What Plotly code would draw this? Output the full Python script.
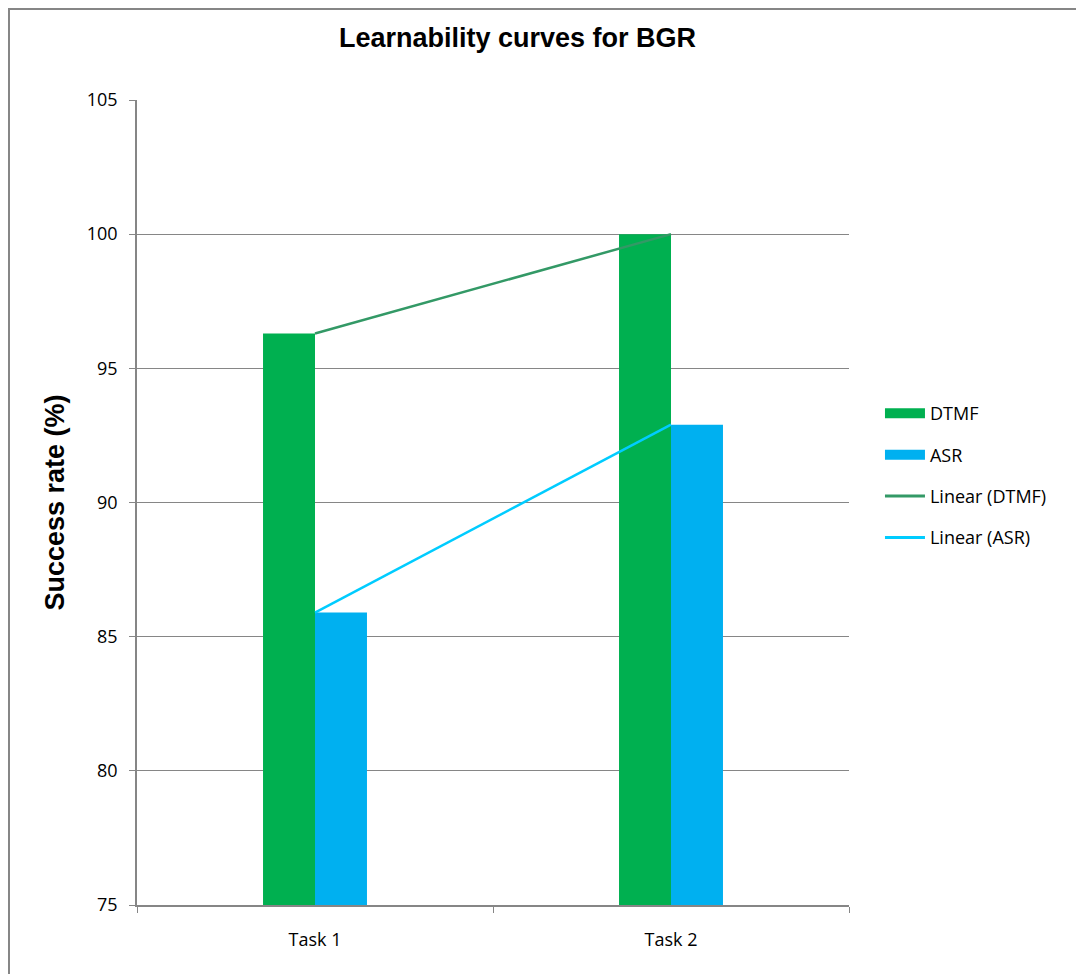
import numpy as np
import plotly.graph_objects as go

categories = ["Task 1", "Task 2"]
dtmf = [96.3, 100.0]
asr = [85.9, 92.9]

def linear_trend(vals):
    idx = np.arange(len(vals))
    m, b = np.polyfit(idx, vals, 1)
    return list(m * idx + b)

grey = "#868686"
c_dtmf = "#00B050"
c_asr = "#00B0F0"
tickfont = dict(family="Open Sans, Noto Sans, sans-serif", size=18, color="#000000")

fig = go.Figure()
fig.add_trace(go.Bar(x=categories, y=dtmf, name="DTMF", legendgroup="a", showlegend=False,
                     marker=dict(color=c_dtmf, line=dict(width=0))))
fig.add_trace(go.Bar(x=categories, y=asr, name="ASR", legendgroup="b", showlegend=False,
                     marker=dict(color=c_asr, line=dict(width=0))))
fig.add_trace(go.Scatter(x=categories, y=linear_trend(dtmf), name="Linear (DTMF)", mode="lines",
                         legendgroup="c", showlegend=False, line=dict(color="#339966", width=2.5)))
fig.add_trace(go.Scatter(x=categories, y=linear_trend(asr), name="Linear (ASR)", mode="lines",
                         legendgroup="d", showlegend=False, line=dict(color="#00CCFF", width=2.5)))

# legend entries (wide rectangular swatches like the original)
fig.add_trace(go.Scatter(x=[None], y=[None], name="DTMF", mode="lines", legendgroup="a",
                         line=dict(color=c_dtmf, width=13), hoverinfo="skip"))
fig.add_trace(go.Scatter(x=[None], y=[None], name="ASR", mode="lines", legendgroup="b",
                         line=dict(color=c_asr, width=13), hoverinfo="skip"))
fig.add_trace(go.Scatter(x=[None], y=[None], name="Linear (DTMF)", mode="lines", legendgroup="c",
                         line=dict(color="#339966", width=3), hoverinfo="skip"))
fig.add_trace(go.Scatter(x=[None], y=[None], name="Linear (ASR)", mode="lines", legendgroup="d",
                         line=dict(color="#00CCFF", width=3), hoverinfo="skip"))

fig.update_layout(
    width=1084, height=974,
    margin=dict(l=129, r=243, t=92, b=77),
    paper_bgcolor="white", plot_bgcolor="white",
    barmode="group", bargap=0.708, bargroupgap=0,
    title=dict(text="<b>Learnability curves for BGR</b>", x=0.470, xanchor="center", y=0.970, yanchor="middle",
               font=dict(family="Liberation Sans, Arial, sans-serif", size=27, color="#000000")),
    legend=dict(x=1.0435, xanchor="left", y=0.5335, yanchor="middle", font=tickfont,
                tracegroupgap=15, itemwidth=40, bgcolor="rgba(0,0,0,0)"),
    showlegend=True,
    shapes=[dict(type="rect", xref="paper", yref="paper", x0=-0.1798, x1=1.35, y0=-0.12, y1=1.1130,
                 line=dict(color=grey, width=2), layer="below")],
)
fig.update_yaxes(range=[75, 105], dtick=5, tick0=75, showgrid=True, gridcolor=grey, gridwidth=1,
                 showline=True, linecolor=grey, linewidth=1.5, ticks="outside", ticklen=6, tickcolor=grey,
                 tickfont=tickfont, zeroline=False, ticklabelstandoff=8,
                 title=dict(text="<b>Success rate (%)</b>",
                            font=dict(family="Liberation Sans, Arial, sans-serif", size=27, color="#000000"),
                            standoff=14))
fig.update_xaxes(showline=True, linecolor=grey, linewidth=1.5, ticks="outside", ticklen=6, tickcolor=grey,
                 tickson="boundaries", tickfont=tickfont, showgrid=False, ticklabelstandoff=18)

fig.write_html("out.html")
